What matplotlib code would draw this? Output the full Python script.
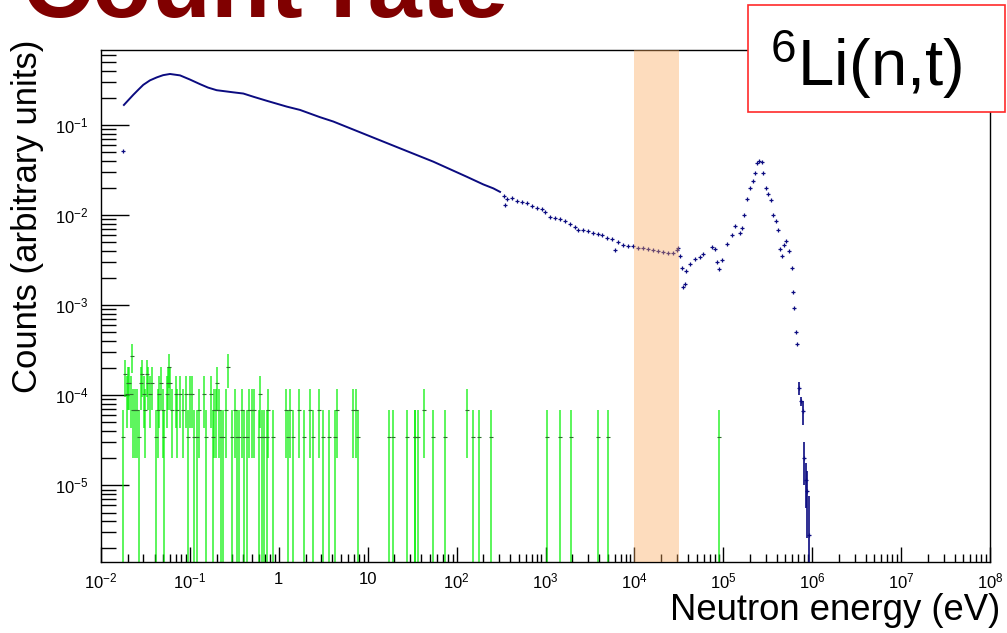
import numpy as np
import matplotlib.pyplot as plt
from matplotlib.patches import Rectangle
from matplotlib.ticker import LogLocator, FuncFormatter, NullFormatter

plt.rcParams['font.family'] = ['Liberation Sans', 'DejaVu Sans']
plt.rcParams['mathtext.fontset'] = 'custom'
plt.rcParams['mathtext.rm'] = 'Liberation Sans'
plt.rcParams['mathtext.it'] = 'Liberation Sans:italic'
plt.rcParams['mathtext.bf'] = 'Liberation Sans:bold'

# 6Li(n,t) count rate (blue histogram)
blue_energy = [
    0.0176, 0.0181, 0.0205, 0.0231, 0.0265, 0.0299, 0.0355, 0.0424, 0.0500, 0.0597,
    0.0774, 0.100, 0.130, 0.160, 0.200, 0.308, 0.399, 0.52, 0.731, 1.23,
    1.73, 2.90, 4.10, 9.75, 23.1, 54.7, 130, 200, 259, 308,
    340, 350, 366, 416, 474, 540, 614, 699, 796, 906,
    987, 1124, 1279, 1456, 1657, 1886, 2147, 2341, 2665, 3032,
    3451, 3929, 4283, 4875, 5550, 6050, 6596, 7508, 8546, 9727,
    11070, 12600, 14350, 16330, 18590, 21160, 24080, 27410, 29880, 31200,
    32800, 34000, 35500, 37000, 38000, 42200, 48100, 54700, 59500, 74000,
    80700, 85700, 90200, 95900, 109000, 124000, 135000, 154000, 164000, 172000,
    186000, 200000, 218000, 227000, 238000, 251000, 269000, 282000, 302000, 320000,
    344000, 365000, 392000, 415000, 434000, 454000, 482000, 507000, 552000, 587000,
    603000, 630000, 658000, 675000]
blue_counts = [
    0.0522, 0.168, 0.192, 0.218, 0.250, 0.281, 0.315, 0.340, 0.360, 0.371,
    0.358, 0.322, 0.286, 0.262, 0.245, 0.232, 0.225, 0.207, 0.187, 0.161,
    0.148, 0.123, 0.110, 0.078, 0.0554, 0.0394, 0.0268, 0.0220, 0.0199, 0.0182,
    0.0162, 0.0129, 0.01536, 0.01562, 0.01458, 0.01410, 0.01374, 0.01272, 0.01208, 0.01168,
    0.01090, 0.00959, 0.00943, 0.00919, 0.00858, 0.00808, 0.00742, 0.00693, 0.00687, 0.00664,
    0.00642, 0.00614, 0.00599, 0.00564, 0.00550, 0.00408, 0.00505, 0.00472, 0.00456, 0.00452,
    0.00436, 0.00433, 0.00418, 0.00408, 0.00397, 0.00390, 0.00377, 0.00384, 0.00408, 0.00433,
    0.00352, 0.00261, 0.00159, 0.00174, 0.0024, 0.00289, 0.00329, 0.00343, 0.00374, 0.0044,
    0.00425, 0.0030, 0.0025, 0.0032, 0.00484, 0.0061, 0.0076, 0.0064, 0.0073, 0.0100,
    0.0151, 0.0199, 0.0239, 0.0297, 0.0377, 0.0403, 0.0388, 0.0297, 0.0202, 0.0174,
    0.0147, 0.0102, 0.0086, 0.0068, 0.00425, 0.00349, 0.00464, 0.00519, 0.00397, 0.00259,
    0.00142, 0.00093, 0.00050, 0.00037]

# high energy tail, where error bars are visible
tail_energy = [711000, 742000, 781000, 815000, 851000, 881000, 927000]
tail_counts = [1.22e-4, 8.67e-5, 6.7e-5, 2.02e-5, 1.16e-5, 8.6e-6, 2.83e-6]
tail_err = [2.0e-5, 1.0e-5, 2.0e-5, 1.0e-5, 6.0e-6, 6.0e-6, 4.8e-6]

# background (green histogram): bin energies and number of counts
green_unit = 3.43e-5
green_energy = [
    0.01753, 0.01846, 0.01944, 0.02013, 0.02084, 0.02157, 0.02251, 0.02311, 0.02413, 0.02519,
    0.02699, 0.02818, 0.02917, 0.03020, 0.03126, 0.03264, 0.03408, 0.03557, 0.03714, 0.04155,
    0.04338, 0.04529, 0.04688, 0.04937, 0.05111, 0.05477, 0.05620, 0.05817, 0.05970, 0.06290,
    0.06975, 0.07220, 0.07740, 0.08297, 0.09039, 0.09604, 0.1003, 0.1047, 0.1122, 0.1191,
    0.1255, 0.1441, 0.1518, 0.1713, 0.1804, 0.1868, 0.1950, 0.2036, 0.2108, 0.2220,
    0.2337, 0.2548, 0.2706, 0.2951, 0.3216, 0.3418, 0.3599, 0.3823, 0.4060, 0.4350,
    0.4661, 0.4953, 0.5261, 0.5934, 0.6143, 0.6470, 0.6816, 0.7303, 0.7624, 0.8675,
    1.205, 1.280, 1.337, 1.458, 1.688, 1.921, 2.244, 2.445, 2.857, 3.115,
    3.701, 4.323, 4.553, 6.893, 7.387, 7.845, 17.21, 19.09, 27.43, 33.75,
    34.34, 36.80, 43.35, 53.80, 73.41, 130.9, 151.6, 178.6, 243.8, 1031,
    1469, 1919, 3864, 5047, 90250]
green_counts = [
    1, 5, 3, 4, 4, 3, 8, 2, 2, 2,
    1, 4, 5, 3, 2, 5, 4, 3, 4, 1,
    2, 3, 4, 2, 1, 3, 4, 6, 4, 2,
    3, 2, 3, 2, 3, 1, 3, 3, 1, 1,
    2, 3, 1, 3, 1, 2, 2, 4, 2, 1,
    1, 2, 6, 1, 2, 1, 1, 2, 1, 1,
    2, 2, 2, 1, 3, 1, 1, 1, 2, 1,
    2, 1, 2, 1, 2, 1, 2, 1, 2, 1,
    1, 1, 2, 2, 2, 1, 1, 1, 1, 1,
    1, 1, 2, 1, 1, 2, 1, 1, 1, 1,
    1, 1, 1, 1, 1]

band = (1e4, 3.2e4)
navy = '#0b0b80'
ymin, ymax = 1.41e-6, 0.685

fig = plt.figure(figsize=(10.07, 6.33), dpi=100)
ax = fig.add_axes([101 / 1007, 1 - 562 / 633, 889 / 1007, 512 / 633])
ax.set_xscale('log')
ax.set_yscale('log')
ax.set_xlim(1e-2, 1e8)
ax.set_ylim(ymin, ymax)

# green background with poisson errors
ge = np.array(green_energy)
gc = np.array(green_counts, dtype=float)
gy = gc * green_unit
gerr = np.sqrt(gc) * green_unit
ax.vlines(ge, np.maximum(gy - gerr, ymin * 0.5), gy + gerr, color='#00f000', lw=1.2, alpha=0.75, zorder=2)
ax.plot(ge, gy, ls='none', marker='_', ms=2.5, mew=0.8, color='#2f6f2f', zorder=3)

# blue spectrum
be = np.array(blue_energy)
bc = np.array(blue_counts)
smooth = (be >= 0.018) & (be <= 320)
ax.plot(be[smooth], bc[smooth], color=navy, lw=1.4, zorder=4)
ax.plot(be[~smooth], bc[~smooth], ls='none', marker='+', ms=3.5, mew=0.9, color=navy, zorder=4)

te = np.array(tail_energy)
tc = np.array(tail_counts)
terr = np.array(tail_err)
ax.vlines(te, np.maximum(tc - terr, ymin * 0.5), tc + terr, color=navy, lw=1.2, zorder=4)
ax.plot(te, tc, ls='none', marker='+', ms=3.5, mew=0.9, color=navy, zorder=4)

ax.axvspan(band[0], band[1], color='#faa85c', alpha=0.4, lw=0, zorder=5)


def root_fmt(v, pos):
    e = int(round(np.log10(v)))
    if e == 0:
        return '1'
    if e == 1:
        return '10'
    return r'$\mathregular{10^{%d}}$' % e


ax.xaxis.set_major_locator(LogLocator(base=10, numticks=20))
ax.xaxis.set_minor_locator(LogLocator(base=10, subs=np.arange(2, 10), numticks=100))
ax.yaxis.set_major_locator(LogLocator(base=10, numticks=20))
ax.yaxis.set_minor_locator(LogLocator(base=10, subs=np.arange(2, 10), numticks=100))
ax.xaxis.set_major_formatter(FuncFormatter(root_fmt))
ax.yaxis.set_major_formatter(FuncFormatter(root_fmt))
ax.xaxis.set_minor_formatter(NullFormatter())
ax.yaxis.set_minor_formatter(NullFormatter())

ax.tick_params(axis='x', which='major', direction='in', length=11, width=1, top=False, pad=7, labelsize=12)
ax.tick_params(axis='x', which='minor', direction='in', length=6, width=1, top=False)
ax.tick_params(axis='y', which='major', direction='in', length=20, width=1, right=False, pad=9, labelsize=12)
ax.tick_params(axis='y', which='minor', direction='in', length=11, width=1, right=False)
for s in ax.spines.values():
    s.set_linewidth(1)

fig.text(22 / 1007, 1 - 17 / 633, 'Count rate', fontsize=70, fontweight='bold',
         color='#800000', ha='left', va='baseline')

box = Rectangle((748 / 1007, 1 - 112 / 633), 257 / 1007, 107 / 633, transform=fig.transFigure,
                facecolor='white', edgecolor='#ff2a2a', lw=1.2, zorder=10)
fig.add_artist(box)
fig.text(866 / 1007, 1 - 86 / 633, r'$\mathregular{^{6}}$Li(n,t)', fontsize=47,
         ha='center', va='baseline', zorder=11)

fig.text(28 / 1007, 1 - 216 / 633, 'Counts (arbitrary units)', rotation=90, fontsize=25,
         ha='center', va='center')
fig.text(1000 / 1007, 1 - 620 / 633, 'Neutron energy (eV)', fontsize=26.3,
         ha='right', va='baseline')

fig.savefig('out.png', dpi=100)
